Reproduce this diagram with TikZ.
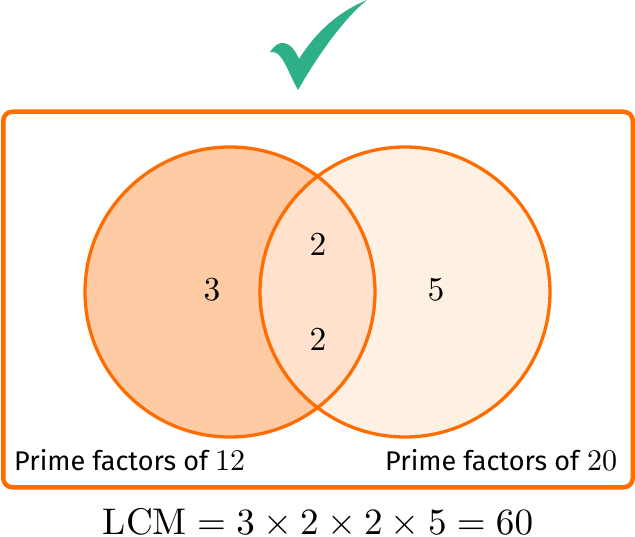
\documentclass[tikz,border=0pt]{standalone}
\usepackage{fontspec}
\usepackage{graphicx}
\newfontfamily\labelfont{Fira Sans}
\definecolor{ring}{HTML}{FF6D00}
\definecolor{leftfill}{HTML}{FFCBA4}
\definecolor{rightfill}{HTML}{FFF0E4}
\definecolor{lensfill}{HTML}{FFE1CE}
\definecolor{tick}{HTML}{2DB087}
\tikzset{
  ringline/.style={draw=ring,line width=3.3pt},
  numlabel/.style={inner sep=0pt},
  setlabel/.style={inner sep=0pt,anchor=base west,font=\fontsize{27}{30}\selectfont},
  equation/.style={inner sep=0pt,anchor=base}
}
\newcommand{\bignum}[1]{\scalebox{3.35}{$#1$}}
\newcommand{\labnum}[1]{\scalebox{3.0}{\fontsize{10}{12}\selectfont$#1$}}
\begin{document}
\begin{tikzpicture}[x=1pt,y=-1pt]
\useasboundingbox (0,0) rectangle (635,537);
% tick
\fill[tick] (270,52) .. controls (274,46) and (279,42) .. (284,43)
  .. controls (291,44) and (296,52) .. (299,59)
  .. controls (316,32) and (338,12) .. (367,0)
  .. controls (348,15) and (322,48) .. (298,90)
  .. controls (291,78) and (285,60) .. (278,54)
  .. controls (276,52) and (273,52) .. (270,52) -- cycle;
% outer frame
\node[name=frame,draw=ring,line width=4.5pt,rounded corners=9pt,minimum width=629.5pt,minimum height=375.5pt,inner sep=0pt] at (318,299.5) {};
% fills
\fill[leftfill] (230,292) circle (145pt);
\fill[rightfill] (405,292) circle (145pt);
\begin{scope}
\clip (230,292) circle (145pt);
\fill[lensfill] (405,292) circle (145pt);
\end{scope}
\node[name=leftset,circle,ringline,minimum size=290pt,inner sep=0pt] at (230,292) {};
\node[name=rightset,circle,ringline,minimum size=290pt,inner sep=0pt] at (405,292) {};
% numbers
\node[name=n3,numlabel] at (212,290) {\fontsize{10}{12}\selectfont\bignum{3}};
\node[name=n2a,numlabel] at (318,245) {\fontsize{10}{12}\selectfont\bignum{2}};
\node[name=n2b,numlabel] at (318,340) {\fontsize{10}{12}\selectfont\bignum{2}};
\node[name=n5,numlabel] at (436,290) {\fontsize{10}{12}\selectfont\bignum{5}};
% labels
\node[name=pf12,setlabel] at (14,470) {\labelfont Prime factors of\hspace{7pt}\labnum{12}};
\node[name=pf20,setlabel] at (385,470) {\labelfont Prime factors of\hspace{8pt}\labnum{20}};
\node[name=lcm,equation] at (318,534) {\fontsize{10}{12}\selectfont\scalebox{3.71}{$\mathrm{LCM}=3\times2\times2\times5=60$}};
\end{tikzpicture}
\end{document}
